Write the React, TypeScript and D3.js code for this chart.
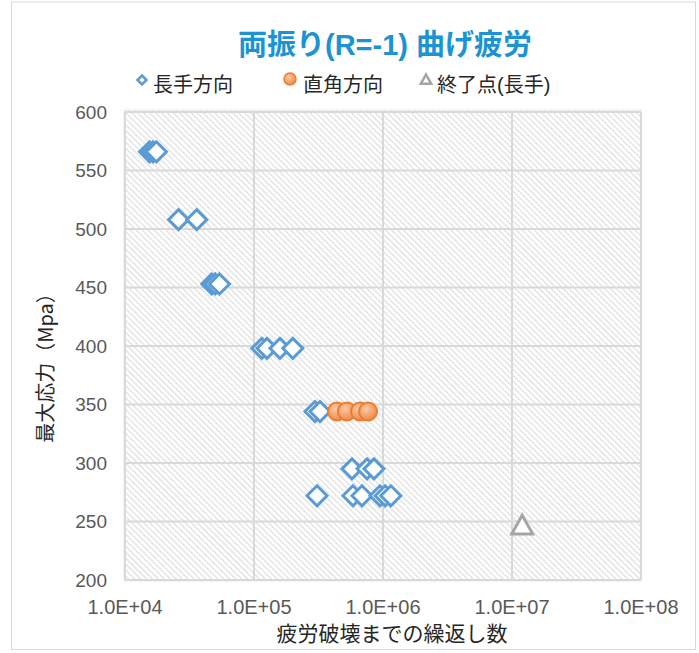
import React from 'react';
import * as d3 from 'd3';

// data
const longCycles = [15500, 16500, 17500, 26000, 36000, 47000, 50000, 54000,
  115000, 126000, 159000, 200000, 297000, 325000,
  575000, 752000, 851000, 308000, 585000, 687000, 948000, 1040000, 1150000];
const longStress = [566, 566, 566, 508, 508, 453, 453, 453,
  398, 398, 398, 398, 344, 344,
  295, 295, 295, 272, 272, 272, 272, 272, 272];

const transCycles = [440000, 525000, 663000, 766000];
const transStress = [344, 344, 344, 344];

const endCycles = [12000000];
const endStress = [246];

const xTicks = [1e4, 1e5, 1e6, 1e7, 1e8];
const yTicks = [200, 250, 300, 350, 400, 450, 500, 550, 600];

const W = 699;
const H = 653;
const margin = { left: 125, right: 58, top: 112, bottom: 73 };

const jp = '"Noto Sans CJK JP", "Noto Sans", sans-serif';
const mixed = '"Liberation Sans", "Noto Sans CJK JP", sans-serif';
const num = '"Liberation Sans", Arial, sans-serif';

const App: React.FC = () => {
  const x = d3.scaleLog().domain([1e4, 1e8]).range([margin.left, W - margin.right]);
  const y = d3.scaleLinear().domain([200, 600]).range([H - margin.bottom, margin.top]);
  const pw = W - margin.left - margin.right;
  const ph = H - margin.top - margin.bottom;

  const diamond = (cx: number, cy: number, r: number) =>
    `M${cx},${cy - r}L${cx + r},${cy}L${cx},${cy + r}L${cx - r},${cy}Z`;
  const tri = (cx: number, cy: number, r: number) =>
    `M${cx},${cy - r}L${cx + r * 0.95},${cy + r * 0.7}L${cx - r * 0.95},${cy + r * 0.7}Z`;

  return (
    <svg width={W} height={H} style={{ display: 'block', position: 'absolute', left: 0, top: 0 }}>
      <defs>
        <pattern id="hatch" width="4.2" height="4.2" patternUnits="userSpaceOnUse" patternTransform="rotate(-45)">
          <rect width="4.2" height="4.2" fill="#ffffff" />
          <line x1="0.8" y1="0" x2="0.8" y2="4.2" stroke="#dedede" strokeWidth="1.2" />
        </pattern>
        <radialGradient id="orangeGrad" cx="40%" cy="35%" r="65%">
          <stop offset="0%" stopColor="#f9c9a6" />
          <stop offset="100%" stopColor="#ee8a4a" />
        </radialGradient>
      </defs>
      <rect x={0} y={0} width={W} height={H} fill="#fff" />
      <rect x={11.5} y={2} width={W - 15} height={H - 5.5} fill="none" stroke="#d9d9d9" strokeWidth={1} />

      {/* plot area */}
      <rect x={margin.left - 1} y={margin.top - 2} width={pw + 1} height={ph + 3} fill="url(#hatch)" stroke="#ebebeb" strokeWidth={1} />
      {yTicks.map(t => (
        <line key={'gy' + t} x1={margin.left} x2={W - margin.right} y1={y(t)} y2={y(t)} stroke="#d9d9d9" strokeWidth={2} />
      ))}
      {xTicks.map(t => (
        <line key={'gx' + t} x1={x(t)} x2={x(t)} y1={margin.top} y2={H - margin.bottom} stroke="#d9d9d9" strokeWidth={2} />
      ))}

      {/* axis tick labels */}
      {yTicks.map(t => (
        <text key={'ty' + t} x={margin.left - 18} y={y(t)} dy="0.35em" textAnchor="end"
          fontFamily={num} fontSize={19} fill="#595959">{t}</text>
      ))}
      {xTicks.map(t => (
        <text key={'tx' + t} x={x(t)} y={H - margin.bottom + 34} textAnchor="middle"
          fontFamily={num} fontSize={20} fill="#595959">{d3.format('.1e')(t).replace('e+', 'E+0').toUpperCase()}</text>
      ))}

      {/* axis titles */}
      <text x={392} y={641} textAnchor="middle" fontFamily={jp} fontSize={21} fill="#262626">疲労破壊までの繰返し数</text>
      <text transform={`translate(53,363) rotate(-90)`} textAnchor="middle"
        fontFamily={jp} fontSize={20} fill="#262626">最大応力（Mpa）</text>

      {/* title */}
      <text x={385} y={55} textAnchor="middle" fontFamily={mixed} fontSize={29} fontWeight="bold" fill="#1c93d2">両振り(R=-1) 曲げ疲労</text>

      {/* legend */}
      <path d={diamond(142, 80, 4.5)} fill="#fff" stroke="#5b9bd5" strokeWidth={2.5} />
      <text x={153} y={92} fontFamily={jp} fontSize={20} fill="#262626">長手方向</text>
      <circle cx={290} cy={79} r={6} fill="url(#orangeGrad)" stroke="#ed7d31" strokeWidth={1.5} />
      <text x={303} y={92} fontFamily={jp} fontSize={20} fill="#262626">直角方向</text>
      <path d={tri(426, 80, 5.5)} fill="#fff" stroke="#a5a5a5" strokeWidth={2.5} />
      <text x={437} y={92} fontFamily={mixed} fontSize={20} fill="#262626">終了点(長手)</text>

      {/* series */}
      {longCycles.map((c, i) => (
        <path key={'l' + i} d={diamond(x(c), y(longStress[i]), 10)} fill="#fff" stroke="#5b9bd5" strokeWidth={3} strokeLinejoin="miter" />
      ))}
      {transCycles.map((c, i) => (
        <circle key={'t' + i} cx={x(c)} cy={y(transStress[i])} r={9} fill="url(#orangeGrad)" stroke="#ed7d31" strokeWidth={2} />
      ))}
      {endCycles.map((c, i) => (
        <path key={'e' + i} d={tri(x(c), y(endStress[i]), 11)} fill="#fff" stroke="#a5a5a5" strokeWidth={3} />
      ))}
    </svg>
  );
};

export default App;
